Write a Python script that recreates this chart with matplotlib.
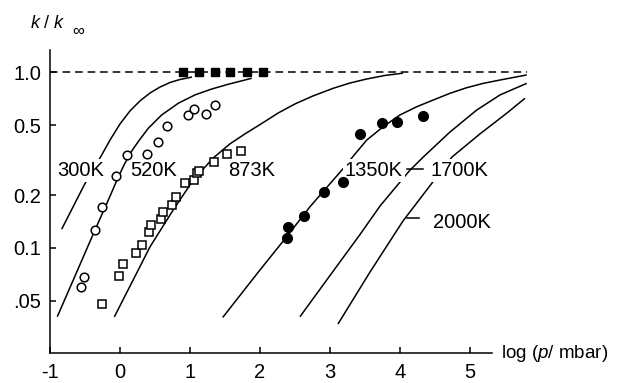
import numpy as np
import matplotlib.pyplot as plt
from matplotlib.ticker import NullLocator

plt.rcParams['font.family'] = ['Liberation Sans', 'DejaVu Sans']
plt.rcParams['mathtext.fontset'] = 'custom'
plt.rcParams['mathtext.rm'] = 'Liberation Sans'
plt.rcParams['mathtext.it'] = 'Liberation Sans:italic'
plt.rcParams['axes.unicode_minus'] = False

# falloff curves: log10(p / mbar) against k / k_inf
logp_300 = [-0.833, -0.51, -0.261, -0.143, 0.0, 0.143, 0.286, 0.429, 0.571,
            0.714, 0.857, 1.029]
kk_300 = [0.128, 0.229, 0.339, 0.412, 0.509, 0.604, 0.689, 0.764, 0.826,
          0.877, 0.912, 0.942]

logp_520 = [-0.896, -0.643, -0.357, -0.186, -0.043, 0.057, 0.157, 0.261, 0.404,
            0.596, 0.833, 1.071, 1.31, 1.547, 1.786, 1.881]
kk_520 = [0.0406, 0.0692, 0.1268, 0.180, 0.244, 0.297, 0.352, 0.404, 0.481,
          0.573, 0.668, 0.745, 0.805, 0.857, 0.906, 0.927]

logp_873 = [-0.081, 0.429, 0.761, 1.047, 1.333, 1.571, 1.786, 2.024, 2.261,
            2.5, 2.757, 3.047, 3.286, 3.524, 3.786, 4.043]
kk_873 = [0.0405, 0.1016, 0.165, 0.244, 0.326, 0.392, 0.447, 0.512, 0.588,
          0.662, 0.735, 0.813, 0.871, 0.918, 0.962, 0.991]

logp_1350 = [1.467, 2.0, 2.381, 2.714, 3.19, 3.333, 3.524, 3.761, 4.0, 4.239,
             4.476, 4.714, 4.953, 5.19, 5.429, 5.81]
kk_1350 = [0.0402, 0.0750, 0.1159, 0.1718, 0.284, 0.334, 0.412, 0.491, 0.573,
           0.638, 0.697, 0.761, 0.819, 0.867, 0.906, 0.968]

logp_1700 = [2.571, 3.0, 3.429, 3.714, 4.143, 4.333, 4.714, 5.096, 5.429, 5.81]
kk_1700 = [0.0406, 0.0697, 0.1194, 0.1734, 0.278, 0.330, 0.458, 0.611, 0.745, 0.867]

logp_2000 = [3.114, 3.571, 4.043, 4.457, 4.743, 5.143, 5.529, 5.786]
kk_2000 = [0.0369, 0.0729, 0.1426, 0.2344, 0.330, 0.447, 0.588, 0.713]

# measurements
open_circ_x = [-0.561, -0.510, -0.357, -0.261, -0.057, 0.096, 0.381, 0.539,
               0.676, 0.967, 1.061, 1.229, 1.357]
open_circ_y = [0.0597, 0.0686, 0.1267, 0.172, 0.258, 0.339, 0.342, 0.400,
               0.496, 0.573, 0.622, 0.580, 0.653]

open_sq_x = [-0.261, -0.010, 0.047, 0.229, 0.310, 0.419, 0.439, 0.586, 0.619,
             0.739, 0.8, 0.929, 1.061, 1.093, 1.133, 1.347, 1.524, 1.729]
open_sq_y = [0.048, 0.0692, 0.081, 0.094, 0.1044, 0.1233, 0.135, 0.146, 0.161,
             0.176, 0.195, 0.236, 0.244, 0.267, 0.276, 0.308, 0.342, 0.358]

filled_circ_x = [2.381, 2.393, 2.631, 2.917, 3.181, 3.429, 3.739, 3.957, 4.329]
filled_circ_y = [0.1135, 0.131, 0.152, 0.209, 0.239, 0.449, 0.518, 0.519, 0.565]

filled_sq_x = [0.896, 1.129, 1.357, 1.571, 1.81, 2.047]
filled_sq_y = [1.0, 1.0, 1.0, 1.0, 1.0, 1.0]

ytick_vals = [1.0, 0.5, 0.2, 0.1, 0.05]
ytick_text = ['1.0', '0.5', '0.2', '0.1', '.05']
xtick_vals = [-1, 0, 1, 2, 3, 4, 5]

fig = plt.figure(figsize=(6.22, 3.83), dpi=100)
ax = fig.add_axes([50 / 622, 29.7 / 383, 480 / 622, 303.3 / 383])
ax.set_yscale('log')
ax.set_xlim(-1.0, 5.857)
ax.set_ylim(0.02512, 1.343)

ax.plot([-1.0, 5.81], [1.0, 1.0], color='k', lw=1.1, dashes=(5.0, 3.2), zorder=2)

for xs, ys in [(logp_300, kk_300), (logp_520, kk_520), (logp_873, kk_873),
               (logp_1350, kk_1350), (logp_1700, kk_1700), (logp_2000, kk_2000)]:
    ax.plot(xs, ys, color='k', lw=1.1, solid_capstyle='butt',
            solid_joinstyle='round', zorder=2)

ax.plot(open_circ_x, open_circ_y, 'o', ms=6.2, mfc='white', mec='k', mew=1.1, zorder=4)
ax.plot(open_sq_x, open_sq_y, 's', ms=5.6, mfc='white', mec='k', mew=1.1, zorder=4)
ax.plot(filled_circ_x, filled_circ_y, 'o', ms=7, mfc='k', mec='k', zorder=4)
ax.plot(filled_sq_x, filled_sq_y, 's', ms=6.2, mfc='k', mec='k', zorder=4)

# temperature labels
lab_kw = dict(fontsize=14.5, ha='left', va='center', zorder=3)
box = dict(fc='white', ec='none', pad=1.5)
ax.text(-0.9, 0.277, '300K', bbox=box, **lab_kw)
ax.text(0.143, 0.277, '520K', **lab_kw)
ax.text(1.547, 0.277, '873K', **lab_kw)
ax.text(3.214, 0.277, '1350K', bbox=box, **lab_kw)
ax.text(4.43, 0.277, '1700K', bbox=box, **lab_kw)
ax.text(4.476, 0.139, '2000K', **lab_kw)
ax.plot([4.1, 4.33], [0.283, 0.283], color='k', lw=1.1, zorder=3)
ax.plot([4.095, 4.276], [0.149, 0.149], color='k', lw=1.1, zorder=3)

for side in ['top', 'right']:
    ax.spines[side].set_visible(False)
for side in ['left', 'bottom']:
    ax.spines[side].set_linewidth(1.1)
ax.spines['bottom'].set_bounds(-1.0, 5.31)

ax.yaxis.set_minor_locator(NullLocator())
ax.set_yticks(ytick_vals, ytick_text)
ax.set_xticks(xtick_vals)
ax.tick_params(direction='in', length=4, width=1.1, labelsize=14.5)
ax.tick_params(axis='y', pad=6.5)
ax.tick_params(axis='x', pad=7)

fig.text(501 / 622, 1 - 354 / 383, r'log ($\it{p}$/ mbar)', fontsize=13.5,
         ha='left', va='center')
fig.text(30 / 622, 1 - 24 / 383, r'$k\ /\ k$', fontsize=13,
         ha='left', va='center')
fig.text(72 / 622, 1 - 31 / 383, '\u221e', fontsize=12,
         ha='left', va='center')

fig.savefig('out.png', dpi=100)
